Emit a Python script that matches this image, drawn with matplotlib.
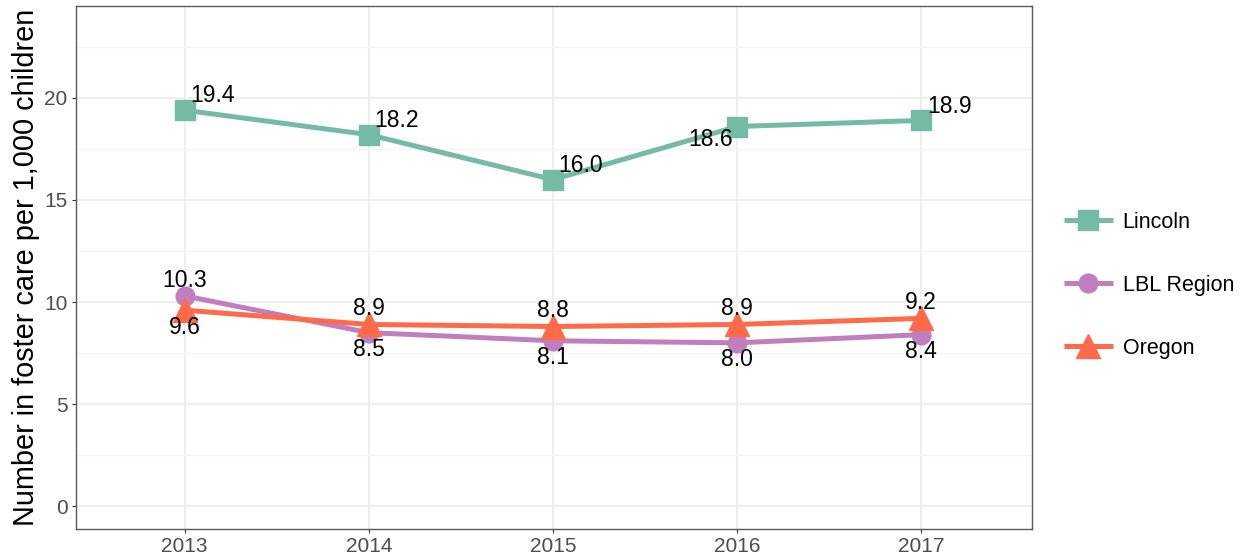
import matplotlib
matplotlib.use("Agg")
import matplotlib.pyplot as plt
from matplotlib.ticker import MultipleLocator

plt.rcParams['font.family'] = ['Liberation Sans', 'DejaVu Sans']

years = [2013, 2014, 2015, 2016, 2017]
lincoln = [19.4, 18.2, 16.0, 18.6, 18.9]
lbl_region = [10.3, 8.5, 8.1, 8.0, 8.4]
oregon = [9.6, 8.9, 8.8, 8.9, 9.2]

series = [
    ("Lincoln", lincoln, "#75BAA5", "s", 14),
    ("LBL Region", lbl_region, "#BF7FBF", "o", 13.5),
    ("Oregon", oregon, "#FF6A4B", "^", 17),
]

fig = plt.figure(figsize=(12.46, 5.57), dpi=100)
ax = fig.add_axes([0.061, 0.050, 0.767, 0.939])

for name, vals, col, mk, ms in series:
    ax.plot(years, vals, color=col, lw=3.6, marker=mk, markersize=ms,
            label=name, solid_capstyle='butt', zorder=3)

# value labels: (dx, dy, ha, va) in points
lab_fs = 16.5
for i, (x, v) in enumerate(zip(years, lincoln)):
    if x == 2016:
        off, ha, va = (-3, -1), 'right', 'top'
    else:
        off, ha, va = (4, 2), 'left', 'bottom'
    ax.annotate(f"{v:.1f}", (x, v), xytext=off, textcoords='offset points',
                ha=ha, va=va, fontsize=lab_fs, zorder=5)
for i, (x, v) in enumerate(zip(years, lbl_region)):
    if i == 0:
        off, va = (0, 3), 'bottom'
    else:
        off, va = (0, -4), 'top'
    ax.annotate(f"{v:.1f}", (x, v), xytext=off, textcoords='offset points',
                ha='center', va=va, fontsize=lab_fs, zorder=5)
for i, (x, v) in enumerate(zip(years, oregon)):
    if i == 0:
        off, va = (0, -4), 'top'
    else:
        off, va = (0, 3), 'bottom'
    ax.annotate(f"{v:.1f}", (x, v), xytext=off, textcoords='offset points',
                ha='center', va=va, fontsize=lab_fs, zorder=5)

ax.set_xlim(2012.41, 2017.6)
ax.set_ylim(-1.13, 24.5)
ax.set_xticks(years)
ax.yaxis.set_major_locator(MultipleLocator(5))
ax.yaxis.set_minor_locator(MultipleLocator(2.5))
ax.set_yticks([0, 5, 10, 15, 20])

ax.grid(which='major', color='#EBEBEB', lw=1.1, zorder=0)
ax.grid(which='minor', axis='y', color='#F4F4F4', lw=0.8, zorder=0)
ax.set_axisbelow(True)
for sp in ax.spines.values():
    sp.set_color('#5a5a5a')
    sp.set_linewidth(1.0)

ax.tick_params(which='major', length=3, width=0.8, color='#333333',
               labelsize=15, labelcolor='#4D4D4D', pad=3)
ax.tick_params(which='minor', length=0)

ax.set_ylabel("Number in foster care per 1,000 children", fontsize=20.8,
              labelpad=3)

ax.legend(loc='center left', bbox_to_anchor=(0.838, 0.488),
          bbox_transform=fig.transFigure, frameon=False, fontsize=15.5,
          handlelength=2.3, handletextpad=0.45, labelspacing=1.95,
          markerscale=1.0)

fig.savefig("out.png", dpi=100, facecolor='white')
